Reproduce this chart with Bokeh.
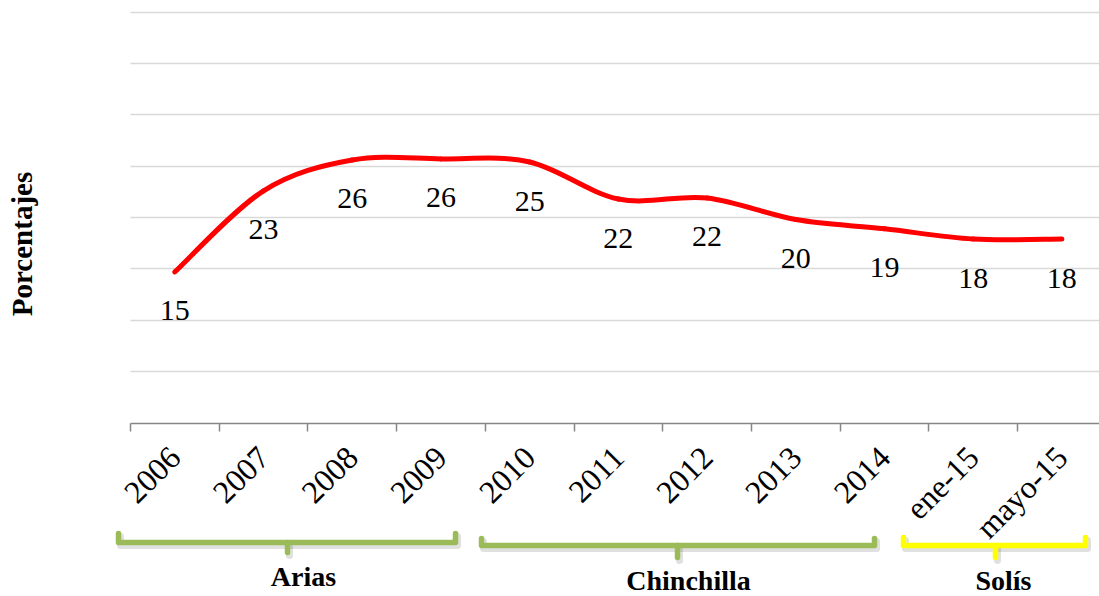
import numpy as np
from math import pi
from bokeh.plotting import figure
from bokeh.models import Range1d, LinearAxis, FixedTicker, Grid
from bokeh.core.properties import value
from bokeh.embed import file_html
from bokeh.resources import INLINE

# ---------------- data ----------------
categories = ["2006", "2007", "2008", "2009", "2010", "2011", "2012", "2013",
              "2014", "ene-15", "mayo-15"]
porcentajes = [14.7, 22.6, 25.6, 25.7, 25.4, 21.8, 21.9, 19.8, 18.9, 17.9, 17.9]
grid_values = [5, 10, 15, 20, 25, 30, 35, 40]
groups = ["Arias", "Chinchilla", "Solís"]
group_colors = ["#9BBB59", "#9BBB59", "#FFFF00"]
y_title = "Porcentajes"

# ---------------- layout (page pixels) ----------------
W, H = 1099, 596
PAGE = 0
X0_PX = 130.0      # left edge of first category
CAT_PX = 88.7      # category width
Y0_PX = 422.5      # value 0
UNIT_PX = 10.275   # pixels per unit
BASE_FIX = 10      # svg alphabetic baseline correction


def px_x(sx):
    return (sx - X0_PX) / CAT_PX - 0.5


def px_y(sy):
    return (Y0_PX - sy) / UNIT_PX


# bracket geometry: left, right, centre, end-top, bar, tick-bottom (page px)
bracket_px = [(118, 455, 287, 533, 542, 552),
              (481, 874, 677, 538, 545, 557),
              (903, 1085, 995, 537, 545, 557)]
group_label_px = [(303, 586), (688, 590), (1003, 590)]

SERIF = "Liberation Serif"

p = figure(width=W, height=H,
           x_range=Range1d(px_x(PAGE), px_x(PAGE + W)),
           y_range=Range1d(px_y(PAGE + H), px_y(PAGE)),
           x_axis_location=None, y_axis_location=None,
           toolbar_location=None, output_backend="svg",
           min_border=0, min_border_left=0, min_border_right=0,
           min_border_top=0, min_border_bottom=0)
p.outline_line_color = None
p.background_fill_color = "white"
p.border_fill_color = "white"
# drop default grids
p.center = [r for r in p.center if not isinstance(r, Grid)]

# gridlines
x_end_data = px_x(PAGE + W) + 1
if "cross_bounds" in Grid.properties():
    g = Grid(dimension=1, ticker=FixedTicker(ticks=grid_values),
             cross_bounds=(-0.5, x_end_data),
             grid_line_color="#D9D9D9", grid_line_width=1.5)
    p.add_layout(g)
else:
    p.segment(x0=[-0.5] * len(grid_values), y0=grid_values,
              x1=[x_end_data] * len(grid_values), y1=grid_values,
              line_color="#D9D9D9", line_width=1.5)

# x axis at value 0
xaxis = LinearAxis(fixed_location=0, bounds=(-0.5, x_end_data))
xaxis.ticker = FixedTicker(ticks=list(range(len(categories))),
                           minor_ticks=[i - 0.5 for i in range(len(categories) + 1)])
xaxis.major_label_overrides = {i: c for i, c in enumerate(categories)}
xaxis.major_tick_in = 0
xaxis.major_tick_out = 0
xaxis.minor_tick_in = 0
xaxis.minor_tick_out = 8
xaxis.minor_tick_line_color = "#868686"
xaxis.minor_tick_line_width = 1.5
xaxis.axis_line_color = "#868686"
xaxis.axis_line_width = 1.5
xaxis.major_label_orientation = pi / 4
xaxis.major_label_text_font = SERIF
xaxis.major_label_text_font_size = "32px"
xaxis.major_label_text_color = "black"
xaxis.major_label_standoff = 21
p.add_layout(xaxis, "below")

# smoothed line (Catmull-Rom -> cubic Bezier control points)
xs = np.arange(len(categories), dtype=float)
ys = np.array(porcentajes, dtype=float)
P = np.column_stack([xs, ys])
Pm = np.vstack([P[0], P, P[-1]])
c0 = Pm[1:-2] + (Pm[2:-1] - Pm[0:-3]) / 6.0
c1 = Pm[2:-1] - (Pm[3:] - Pm[1:-2]) / 6.0
p.bezier(x0=P[:-1, 0], y0=P[:-1, 1], x1=P[1:, 0], y1=P[1:, 1],
         cx0=c0[:, 0], cy0=c0[:, 1], cx1=c1[:, 0], cy1=c1[:, 1],
         line_color="#FF0000", line_width=5, line_cap="round")

# data labels
p.text(x=xs, y=ys, text=[f"{v:.0f}" for v in porcentajes], y_offset=49 - BASE_FIX,
       text_align="center", text_baseline="alphabetic",
       text_font=value(SERIF), text_font_size="30px", text_color="black")

# y title
p.text(x=[px_x(31 - BASE_FIX)], y=[px_y(243.5)], text=[y_title], angle=pi / 2,
       text_align="center", text_baseline="alphabetic",
       text_font=value(SERIF), text_font_size="29px", text_font_style="bold",
       text_color="black")

# brackets
sh_x, sh_y = 2, 3
for (l, r, c, top, bar, bot), col in zip(bracket_px, group_colors):
    shape_x = [[l, l, r, r], [c, c]]
    shape_y = [[top, bar, bar, top], [bar, bot]]
    p.multi_line(xs=[[px_x(v + sh_x) for v in s] for s in shape_x],
                 ys=[[px_y(v + sh_y) for v in s] for s in shape_y],
                 line_color="#000000", line_alpha=0.12, line_width=7,
                 line_cap="round", line_join="round")
    p.multi_line(xs=[[px_x(v) for v in s] for s in shape_x],
                 ys=[[px_y(v) for v in s] for s in shape_y],
                 line_color=col, line_width=5.5,
                 line_cap="round", line_join="round")

# group labels
p.text(x=[px_x(a) for a, b in group_label_px],
       y=[px_y(b - BASE_FIX) for a, b in group_label_px], text=groups,
       text_align="center", text_baseline="alphabetic",
       text_font=value(SERIF), text_font_size="28px", text_font_style="bold",
       text_color="black")

open("out.html", "w").write(file_html(p, INLINE, title="Porcentajes"))
